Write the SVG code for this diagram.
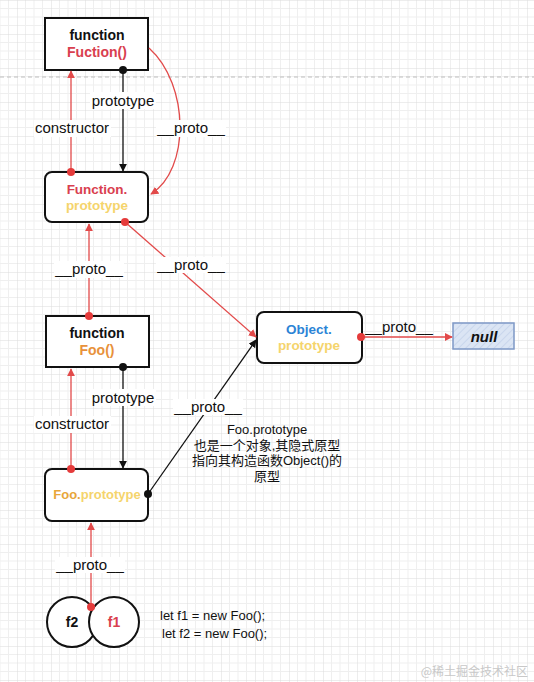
<svg xmlns="http://www.w3.org/2000/svg" width="534" height="682" viewBox="0 0 534 682">
<style>
.box{fill:#fff;stroke:#111;stroke-width:2}
.nt{font-family:"Liberation Sans",Arial,sans-serif;font-weight:bold;text-anchor:middle}
.lbl{font-family:"Liberation Sans",Arial,sans-serif;font-size:15px;fill:#111;text-anchor:middle}
.lbg{fill:#fff}
.red{stroke:#e24a4a;stroke-width:1.3;fill:none}
.blk{stroke:#111;stroke-width:1.3;fill:none}
.note{font-family:"Liberation Sans","Noto Sans CJK SC",sans-serif;font-size:13px;fill:#111}
</style>
<defs>
<pattern id="grid" patternUnits="userSpaceOnUse" x="17" y="0" width="34" height="34">
<path d="M8.5 0V34M17 0V34M25.5 0V34M0 8.5H34M0 17H34M0 25.5H34" stroke="#efefef" stroke-width="1" fill="none"/>
<path d="M0 0V34M0 0H34" stroke="#dcdcdc" stroke-width="1" fill="none"/>
</pattern>
<pattern id="hatch" patternUnits="userSpaceOnUse" width="5" height="5" patternTransform="rotate(45)">
<rect width="5" height="5" fill="#dbe5f4"/>
<line x1="0" y1="0" x2="0" y2="5" stroke="#c3d2ea" stroke-width="1.5"/>
</pattern>
<marker id="ar" viewBox="0 0 10 10" refX="9" refY="5" markerWidth="8" markerHeight="8" orient="auto" markerUnits="userSpaceOnUse">
<path d="M0 0L10 5L0 10z" fill="#e24a4a"/>
</marker>
<marker id="ab" viewBox="0 0 10 10" refX="9" refY="5" markerWidth="8" markerHeight="8" orient="auto" markerUnits="userSpaceOnUse">
<path d="M0 0L10 5L0 10z" fill="#111"/>
</marker>
</defs>
<rect width="534" height="682" fill="#fff"/>
<rect width="534" height="682" fill="url(#grid)"/>
<line x1="0" y1="77" x2="534" y2="77" stroke="#bdbdbd" stroke-width="1" stroke-dasharray="4 3"/>

<g id="node-function">
<rect class="box" x="45" y="18" width="103" height="52"/>
<text class="nt" x="97" y="40" font-size="14" fill="#111">function</text>
<text class="nt" x="97" y="57" font-size="14" fill="#d9404f">Fuction()</text>
</g>

<g id="node-function-prototype">
<rect class="box" x="45" y="172" width="103" height="50" rx="7"/>
<text class="nt" x="97" y="194" font-size="13.5" fill="#d9404f">Function.</text>
<text class="nt" x="97" y="210" font-size="13.5" fill="#f5d46c">prototype</text>
</g>

<g id="node-foo">
<rect class="box" x="46" y="316" width="103" height="51"/>
<text class="nt" x="97" y="338" font-size="14" fill="#111">function</text>
<text class="nt" x="97" y="355" font-size="14" fill="#e8913a">Foo()</text>
</g>

<g id="node-foo-prototype">
<rect class="box" x="45" y="469" width="103" height="52" rx="7"/>
<text class="nt" x="97" y="499" font-size="13"><tspan fill="#e8a63a">Foo.</tspan><tspan fill="#f5d46c">prototype</tspan></text>
</g>

<g id="node-object-prototype">
<rect class="box" x="257" y="312" width="105" height="51" rx="7"/>
<text class="nt" x="309" y="334" font-size="13.5" fill="#2c84d6">Object.</text>
<text class="nt" x="309" y="350" font-size="13.5" fill="#f5d46c">prototype</text>
</g>

<g id="node-null">
<rect x="453" y="323" width="61" height="26" fill="url(#hatch)" stroke="#7e98c6" stroke-width="1.5"/>
<text class="nt" x="484" y="342" font-size="15" font-style="italic" fill="#111">null</text>
</g>

<g id="node-f2">
<circle cx="72" cy="622" r="25" fill="#fff" stroke="#111" stroke-width="2"/>
<text class="nt" x="72" y="627" font-size="14" fill="#111">f2</text>
</g>

<g id="node-f1">
<circle cx="114" cy="622" r="25" fill="#fff" stroke="#111" stroke-width="2"/>
<text class="nt" x="114" y="627" font-size="14" fill="#d9404f">f1</text>
</g>

<g id="connectors">
<!-- Function() -> Function.prototype : prototype -->
<line class="blk" x1="123" y1="70" x2="123" y2="171" marker-end="url(#ab)"/>
<circle cx="123" cy="70" r="4" fill="#111"/>
<rect class="lbg" x="90" y="92" width="66" height="17"/>
<text class="lbl" x="123" y="106">prototype</text>
<!-- Function.prototype -> Function() : constructor -->
<line class="red" x1="71" y1="172" x2="71" y2="71" marker-end="url(#ar)"/>
<circle cx="71" cy="172" r="4" fill="#e53b3b"/>
<rect class="lbg" x="34" y="120" width="77" height="17"/>
<text class="lbl" x="72" y="133">constructor</text>
<!-- Function() -> Function.prototype : __proto__ -->
<path class="red" d="M149 48C190 85 190 170 151 194" marker-end="url(#ar)"/>
<rect class="lbg" x="156" y="120" width="70" height="17"/>
<text class="lbl" x="191" y="133">__proto__</text>
<!-- Function.prototype -> Object.prototype -->
<line class="red" x1="125" y1="222" x2="256" y2="337" marker-end="url(#ar)"/>
<circle cx="125" cy="222" r="4" fill="#e53b3b"/>
<rect class="lbg" x="156" y="257" width="70" height="16"/>
<text class="lbl" x="191" y="270">__proto__</text>
<!-- Foo() -> Function.prototype -->
<line class="red" x1="89" y1="316" x2="89" y2="224" marker-end="url(#ar)"/>
<circle cx="89" cy="316" r="4" fill="#e53b3b"/>
<rect class="lbg" x="54" y="261" width="70" height="17"/>
<text class="lbl" x="89" y="274">__proto__</text>
<!-- Foo() -> Foo.prototype : prototype -->
<line class="blk" x1="123" y1="367" x2="123" y2="468" marker-end="url(#ab)"/>
<circle cx="123" cy="367" r="4" fill="#111"/>
<rect class="lbg" x="90" y="389" width="66" height="17"/>
<text class="lbl" x="123" y="403">prototype</text>
<!-- Foo.prototype -> Foo() : constructor -->
<line class="red" x1="71" y1="469" x2="71" y2="369" marker-end="url(#ar)"/>
<circle cx="71" cy="469" r="4" fill="#e53b3b"/>
<rect class="lbg" x="34" y="416" width="77" height="17"/>
<text class="lbl" x="72" y="429">constructor</text>
<!-- Foo.prototype -> Object.prototype -->
<line class="blk" x1="148" y1="494" x2="256" y2="340" marker-end="url(#ab)"/>
<circle cx="148" cy="494" r="4" fill="#111"/>
<rect class="lbg" x="173" y="399" width="70" height="16"/>
<text class="lbl" x="208" y="412">__proto__</text>
<!-- f1 -> Foo.prototype -->
<line class="red" x1="91" y1="607" x2="91" y2="523" marker-end="url(#ar)"/>
<circle cx="91" cy="607" r="4" fill="#e53b3b"/>
<rect class="lbg" x="55" y="557" width="70" height="16"/>
<text class="lbl" x="90" y="570">__proto__</text>
<!-- Object.prototype -> null -->
<line class="red" x1="361" y1="337" x2="452" y2="337" marker-end="url(#ar)"/>
<circle cx="361" cy="337" r="4" fill="#e53b3b"/>
<text class="lbl" x="399" y="332">__proto__</text>
</g>

<g id="note">
<text class="note" text-anchor="middle" x="267" y="434">Foo.prototype</text>
<text class="note" text-anchor="middle" x="267" y="450">也是一个对象,其隐式原型</text>
<text class="note" text-anchor="middle" x="267" y="465">指向其构造函数Object()的</text>
<text class="note" text-anchor="middle" x="267" y="481">原型</text>
<text class="note" x="160" y="620">let f1 = new Foo();</text>
<text class="note" x="162" y="638">let f2 = new Foo();</text>
</g>

<text x="528" y="676" text-anchor="end" font-family="'Noto Sans CJK SC',sans-serif" font-size="12" fill="#c8c8c8">@稀土掘金技术社区</text>
</svg>
